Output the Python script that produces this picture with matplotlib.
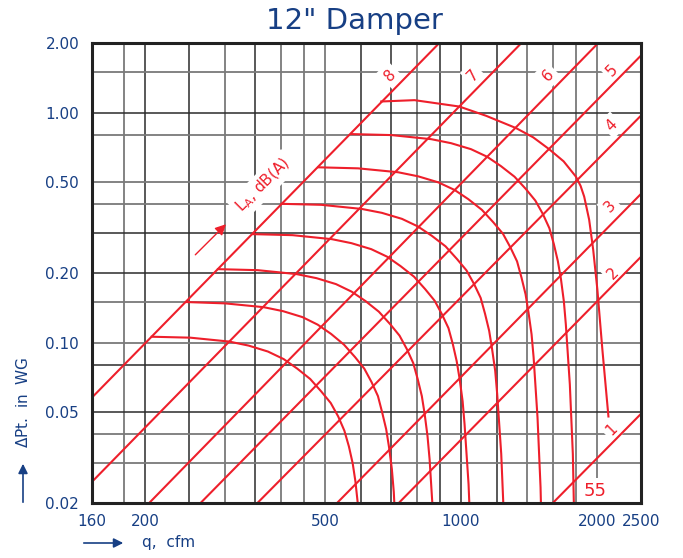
import matplotlib
matplotlib.use('Agg')
import matplotlib.pyplot as plt
from matplotlib.patches import FancyArrowPatch
from matplotlib.ticker import NullLocator

# axis ticks
x_tick_pos = [152.5, 200, 500, 1000, 2000, 2500]
x_tick_labels = ['160', '200', '500', '1000', '2000', '2500']
y_tick_pos = [0.02, 0.05, 0.10, 0.20, 0.50, 1.00, 2.00]
y_tick_labels = ['0.02', '0.05', '0.10', '0.20', '0.50', '1.00', '2.00']

# grid lines (two tones in the original)
x_grid_dark = [200, 250, 350, 600, 700, 900, 1000, 1200]
x_grid_gray = [180, 300, 400, 450, 500, 800, 1400, 1600, 1800]
y_grid_dark = [1.0, 0.3, 0.2, 0.08, 0.05]
y_grid_gray = [1.5, 0.8, 0.5, 0.4, 0.15, 0.1, 0.04, 0.03]

# damper position lines (dp ~ q^2), two points
line_labels = ['8', '7', '6', '5', '4', '3', '2', '1']
line_q_a = [153, 153, 204, 265, 354, 531, 727, 1593]
line_dp_a = [0.0579, 0.0249, 0.02, 0.02, 0.02, 0.02, 0.02, 0.02]
line_q_b = [894, 1358, 2008, 2500, 2500, 2500, 2500, 2500]
line_dp_b = [2.0, 2.0, 2.0, 1.77, 0.97, 0.443, 0.236, 0.049]

# sound level curves
curve1_q = [207, 252, 307, 339, 374, 405, 434, 464, 491, 515, 535, 552, 565, 576, 584, 591, 593]
curve1_dp = [0.106, 0.105, 0.101, 0.0970, 0.0914, 0.0848, 0.0771, 0.0694, 0.0612, 0.0546,
             0.0477, 0.0414, 0.0353, 0.0298, 0.0249, 0.0200, 0.019]
curve2_q = [247, 301, 366, 404, 446, 482, 516, 551, 583, 611, 634, 655, 669, 683, 693, 703,
            710, 712, 714]
curve2_dp = [0.150, 0.148, 0.1425, 0.1369, 0.129, 0.1196, 0.109, 0.0979, 0.0864, 0.0770,
             0.0673, 0.0585, 0.0498, 0.0420, 0.0351, 0.0282, 0.0224, 0.0200, 0.019]
curve3_q = [290, 355, 433, 479, 529, 573, 615, 658, 697, 731, 759, 784, 802, 819, 831, 843,
            852, 864, 866]
curve3_dp = [0.2085, 0.2064, 0.1984, 0.1905, 0.1795, 0.1664, 0.1514, 0.1362, 0.1202, 0.1072,
             0.0936, 0.0814, 0.0693, 0.0585, 0.0488, 0.0392, 0.0311, 0.0200, 0.019]
curve4_q = [347, 424, 518, 572, 633, 686, 735, 787, 833, 874, 907, 938, 959, 978, 993, 1008,
            1018, 1039, 1043, 1045]
curve4_dp = [0.296, 0.293, 0.2815, 0.2705, 0.2547, 0.2363, 0.2149, 0.1934, 0.1707, 0.1521,
             0.1329, 0.1155, 0.0984, 0.0830, 0.0693, 0.0556, 0.0442, 0.0242, 0.0200, 0.019]
curve5_q = [401, 491, 603, 668, 740, 802, 862, 924, 979, 1028, 1068, 1105, 1130, 1154, 1171,
            1190, 1202, 1227, 1240, 1242]
curve5_dp = [0.401, 0.397, 0.381, 0.3664, 0.345, 0.320, 0.291, 0.262, 0.231, 0.206, 0.180,
             0.1564, 0.1333, 0.1124, 0.0939, 0.0753, 0.0598, 0.0328, 0.0200, 0.019]
curve6_q = [483, 592, 726, 804, 891, 967, 1038, 1112, 1179, 1238, 1286, 1330, 1360, 1389,
            1410, 1432, 1447, 1476, 1499, 1502, 1504]
curve6_dp = [0.578, 0.572, 0.550, 0.528, 0.497, 0.461, 0.420, 0.3775, 0.333, 0.297, 0.259,
             0.2254, 0.192, 0.1621, 0.135, 0.1086, 0.0862, 0.0473, 0.0235, 0.0200, 0.019]
curve7_q = [572, 701, 859, 950, 1052, 1141, 1225, 1313, 1391, 1460, 1517, 1568, 1604, 1637,
            1663, 1688, 1705, 1740, 1767, 1776, 1778]
curve7_dp = [0.806, 0.798, 0.766, 0.736, 0.693, 0.643, 0.585, 0.526, 0.465, 0.414, 0.362,
             0.314, 0.268, 0.226, 0.189, 0.151, 0.120, 0.0659, 0.0327, 0.0200, 0.019]
curve8_q = [666, 789, 991, 1136, 1323, 1444, 1566, 1686, 1794, 1838, 1872, 1920, 1960, 2002,
            2054, 2118]
curve8_dp = [1.117, 1.132, 1.062, 0.968, 0.856, 0.780, 0.693, 0.6135, 0.527, 0.480, 0.431,
             0.342, 0.253, 0.170, 0.0929, 0.0477]

curves = [(curve1_q, curve1_dp), (curve2_q, curve2_dp), (curve3_q, curve3_dp),
          (curve4_q, curve4_dp), (curve5_q, curve5_dp), (curve6_q, curve6_dp),
          (curve7_q, curve7_dp), (curve8_q, curve8_dp)]

RED = '#ee1f2b'
BLUE = '#173f84'

fig = plt.figure(figsize=(6.83, 5.58), dpi=100)
ax = fig.add_axes([0.1343, 0.0980, 0.8042, 0.8244])
ax.set_xscale('log')
ax.set_yscale('log')
ax.set_xlim(152.5, 2500)
ax.set_ylim(0.02, 2.0)

for q in x_grid_dark:
    ax.axvline(q, color='#2b2b2b', lw=1.1, zorder=1)
for q in x_grid_gray:
    ax.axvline(q, color='#7a7a7a', lw=1.3, zorder=1)
# the 2000 line stops above the "55" label
ax.plot([2000, 2000], [0.0255, 2.0], color='#7a7a7a', lw=1.3, zorder=1)
for p in y_grid_dark:
    ax.axhline(p, color='#2b2b2b', lw=1.1, zorder=1)
for p in y_grid_gray:
    ax.axhline(p, color='#7a7a7a', lw=1.3, zorder=1)

for i in range(len(line_labels)):
    ax.plot([line_q_a[i], line_q_b[i]], [line_dp_a[i], line_dp_b[i]],
            color=RED, lw=1.5, zorder=3, solid_capstyle='butt')

for cq, cdp in curves:
    ax.plot(cq, cdp, color=RED, lw=1.5, zorder=3, solid_joinstyle='round')

# labels for the damper lines (axes fraction positions)
label_pos = [(0.543, 0.931), (0.695, 0.931), (0.831, 0.931), (0.947, 0.942),
             (0.947, 0.822), (0.944, 0.645), (0.950, 0.500), (0.947, 0.161)]
box = dict(facecolor='white', edgecolor='none', pad=2.5)
for lab, (fx, fy) in zip(line_labels, label_pos):
    ax.text(fx, fy, lab, transform=ax.transAxes, color=RED, fontsize=11,
            rotation=45, ha='center', va='center', zorder=2, bbox=box)

ax.text(0.916, 0.027, '55', transform=ax.transAxes, color=RED, fontsize=13,
        ha='center', va='center', zorder=2, bbox=box)
ax.text(0.312, 0.692, r'L$_\mathregular{A}$, dB(A)', transform=ax.transAxes, color=RED,
        fontsize=11, rotation=45, ha='center', va='center', zorder=2, bbox=box)
ax.annotate('', xy=(0.248, 0.611), xytext=(0.185, 0.536), xycoords='axes fraction',
            arrowprops=dict(arrowstyle='-|>', color=RED, lw=1.0, mutation_scale=16),
            zorder=4)

ax.set_xticks(x_tick_pos)
ax.set_xticklabels(x_tick_labels)
ax.set_yticks(y_tick_pos)
ax.set_yticklabels(y_tick_labels)
ax.xaxis.set_minor_locator(NullLocator())
ax.yaxis.set_minor_locator(NullLocator())
ax.tick_params(axis='both', length=0, labelsize=11, labelcolor=BLUE)
ax.tick_params(axis='x', pad=8)
ax.tick_params(axis='y', pad=9)

for s in ax.spines.values():
    s.set_linewidth(2.2)
    s.set_color('#222222')
    s.set_zorder(5)

fig.text(354 / 683, 1 - 21 / 558, '12" Damper', color=BLUE, fontsize=21,
         ha='center', va='center')

# axis titles with arrows
fig.text(23 / 683, 1 - 402 / 558, r'$\Delta$Pt.  in  WG', color=BLUE, fontsize=11,
         rotation=90, ha='center', va='center')
fig.patches.append(FancyArrowPatch(
    (23 / 683, 1 - 505 / 558), (23 / 683, 1 - 461 / 558), transform=fig.transFigure,
    arrowstyle='-|>', mutation_scale=14, color=BLUE, lw=1.2))
fig.text(169 / 683, 1 - 543 / 558, 'q,  cfm', color=BLUE, fontsize=11,
         ha='center', va='center')
fig.patches.append(FancyArrowPatch(
    (81 / 683, 1 - 543 / 558), (126 / 683, 1 - 543 / 558), transform=fig.transFigure,
    arrowstyle='-|>', mutation_scale=14, color=BLUE, lw=1.2))

fig.savefig('out.png', dpi=100)
